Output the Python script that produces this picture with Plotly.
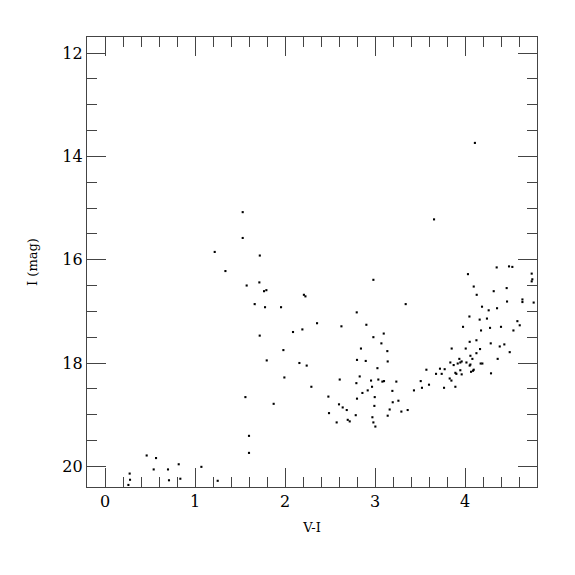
import plotly.graph_objects as go

# V-I colour and I magnitude of stars
vi = [
    4.11,
    1.53, 1.53, 1.219, 1.72, 1.338, 1.715, 1.574, 1.767, 1.793, 2.21, 2.227,
    1.663, 1.778, 1.956, 2.356, 2.193, 2.089, 1.719,
    3.656, 2.982, 3.341, 2.797, 2.627, 2.904, 2.982, 3.097,
    4.352, 4.489, 4.526, 4.033, 4.741, 4.748, 4.741, 4.097, 4.319, 4.463, 4.13,
    4.638, 4.638, 4.763, 4.467, 4.189, 4.263, 4.356, 4.049, 4.163, 4.244, 4.582,
    4.608, 3.978, 4.178, 4.278, 4.4, 4.538,
    1.982, 1.797, 2.16, 2.241, 1.993, 2.293, 1.56, 1.874, 1.6, 1.6,
    0.463, 0.567, 0.819, 1.071, 0.541, 0.7, 0.274, 0.278, 0.711, 0.837, 1.252, 0.26,
    3.071, 2.844, 3.137, 2.8, 2.897, 3.141, 3.027, 2.83, 2.608, 2.956, 3.037,
    3.082, 3.1, 3.237, 2.793, 2.967, 2.919, 2.86, 3.193, 2.482, 2.997, 2.8,
    3.26, 3.197, 2.6, 2.993, 2.641, 2.686, 3.163, 3.363, 3.293, 2.489, 2.786,
    3.141, 2.971, 2.697, 2.719, 2.574, 2.982, 3.004,
    4.052, 4.127, 3.852, 4.008, 4.127, 4.06, 3.937, 4.082, 3.837, 3.948, 3.963,
    3.919, 4.016, 4.06, 4.052, 3.874, 3.571, 3.722, 3.774, 3.948, 4.097, 4.089,
    4.067, 3.893, 3.904, 3.678, 3.741, 3.963, 3.83, 3.849, 3.508, 3.6, 3.433,
    3.522, 3.767, 3.893,
    4.286, 4.386, 4.437, 4.167, 4.497, 4.363, 4.174, 4.193, 4.289,
]
imag = [
    13.74,
    15.08, 15.58, 15.85, 15.92, 16.22, 16.44, 16.50, 16.61, 16.59, 16.68, 16.71,
    16.86, 16.92, 16.92, 17.23, 17.35, 17.40, 17.47,
    15.22, 16.39, 16.86, 17.02, 17.29, 17.26, 17.50, 17.43,
    16.15, 16.13, 16.14, 16.28, 16.27, 16.38, 16.42, 16.52, 16.61, 16.55, 16.68,
    16.77, 16.82, 16.83, 16.81, 16.91, 16.98, 16.94, 17.10, 17.16, 17.14, 17.19,
    17.27, 17.30, 17.37, 17.32, 17.30, 17.37,
    17.75, 17.95, 18.00, 18.05, 18.28, 18.46, 18.66, 18.79, 19.41, 19.74,
    19.79, 19.84, 19.96, 20.01, 20.06, 20.06, 20.14, 20.26, 20.27, 20.24, 20.28, 20.36,
    17.62, 17.72, 17.77, 17.94, 17.96, 17.97, 18.10, 18.26, 18.32, 18.34, 18.32,
    18.36, 18.35, 18.36, 18.39, 18.46, 18.53, 18.58, 18.54, 18.65, 18.66, 18.69,
    18.73, 18.76, 18.80, 18.83, 18.86, 18.91, 18.90, 18.91, 18.94, 18.97, 19.01,
    19.02, 19.05, 19.10, 19.13, 19.15, 19.15, 19.23,
    17.59, 17.56, 17.72, 17.72, 17.81, 17.86, 17.92, 17.92, 17.99, 17.99, 17.97,
    18.01, 17.99, 18.03, 18.05, 18.04, 18.13, 18.11, 18.12, 18.14, 18.13, 18.15,
    18.17, 18.19, 18.21, 18.21, 18.21, 18.22, 18.30, 18.34, 18.35, 18.42, 18.53,
    18.48, 18.48, 18.46,
    17.62, 17.68, 17.64, 17.73, 17.79, 17.92, 18.01, 18.01, 18.20,
]

x_ticks = [0, 1, 2, 3, 4]
y_ticks = [12, 14, 16, 18, 20]

fig = go.Figure(
    go.Scatter(
        x=vi, y=imag, mode="markers",
        marker=dict(symbol="square", size=2.1, color="black", line=dict(width=0)),
        showlegend=False,
    )
)

axis_common = dict(
    showgrid=False, zeroline=False, automargin=False,
    showline=True, linecolor="#444", linewidth=1.3, mirror="allticks",
    ticks="inside", ticklen=19, tickwidth=1.2, tickcolor="#444",
    tickfont=dict(family="DejaVu Serif", size=16, color="black"),
)

fig.update_xaxes(
    range=[-0.2, 4.8], tickvals=x_ticks,
    minor=dict(dtick=0.2, ticks="inside", ticklen=10, tickwidth=1.2, tickcolor="#444", showgrid=False),
    title=dict(text="V-I", font=dict(family="DejaVu Serif", size=13, color="black"), standoff=12),
    **axis_common,
)
fig.update_yaxes(
    range=[20.4, 11.69], tickvals=y_ticks,
    minor=dict(dtick=0.5, ticks="inside", ticklen=10, tickwidth=1.2, tickcolor="#444", showgrid=False),
    title=dict(text="I (mag)", font=dict(family="DejaVu Serif", size=13, color="black"), standoff=21),
    **axis_common,
)

fig.update_layout(
    width=575, height=575,
    margin=dict(l=79, r=46, t=29, b=96),
    paper_bgcolor="white", plot_bgcolor="white",
)

fig.write_html("out.html")
